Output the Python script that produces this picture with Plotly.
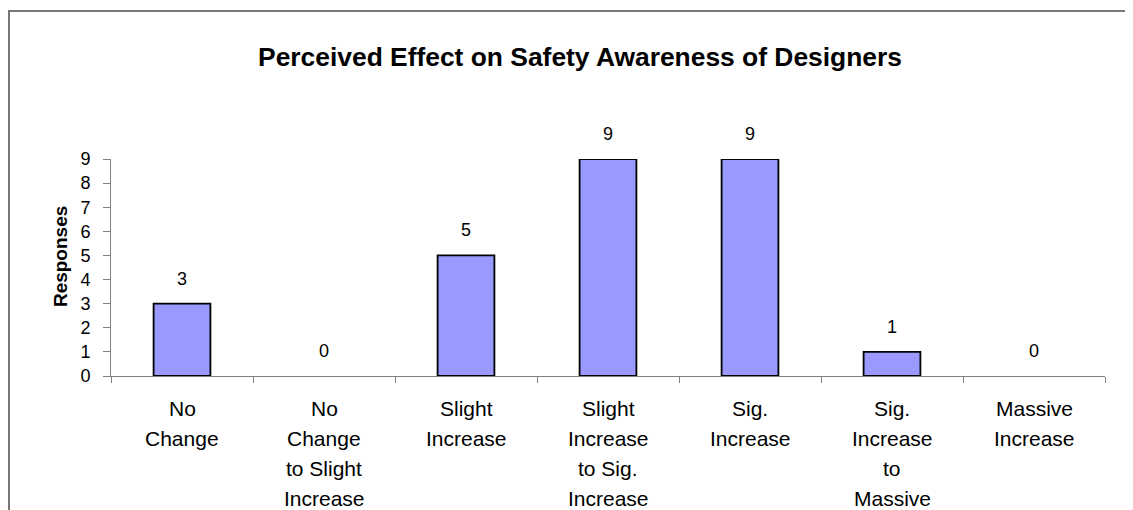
import plotly.graph_objects as go

categories = ["No Change", "No Change to Slight Increase", "Slight Increase",
              "Slight Increase to Sig. Increase", "Sig. Increase",
              "Sig. Increase to Massive", "Massive Increase"]
label_lines = [["No", "Change"], ["No", "Change", "to Slight", "Increase"],
               ["Slight", "Increase"], ["Slight", "Increase", "to Sig.", "Increase"],
               ["Sig.", "Increase"], ["Sig.", "Increase", "to", "Massive"],
               ["Massive", "Increase"]]
responses = [3, 0, 5, 9, 9, 1, 0]
y_ticks = list(range(0, 10))

FONT = "Liberation Sans, Arial, sans-serif"

fig = go.Figure()
fig.add_trace(go.Bar(
    x=categories, y=responses,
    marker=dict(color="#9999FF",
                line=dict(color="#000000",
                          width=[1.8 if v > 0 else 0 for v in responses])),
    width=0.4, showlegend=False, hoverinfo="x+y",
))

annotations = []
for c, v in zip(categories, responses):
    annotations.append(dict(x=c, y=v, xref="x", yref="y", text=str(v),
                            showarrow=False, yshift=25, yanchor="middle",
                            font=dict(size=18, color="black", family=FONT)))
for c, lines in zip(categories, label_lines):
    for i, ln in enumerate(lines):
        annotations.append(dict(x=c, y=0, xref="x", yref="paper", text=ln,
                                showarrow=False, yanchor="middle",
                                yshift=-(32 + 30 * i),
                                font=dict(size=21, color="black", family=FONT)))
annotations.append(dict(x=-0.0513, y=0.548, xref="paper", yref="paper",
                        text="<b>Responses</b>", textangle=-90, showarrow=False,
                        xanchor="center", yanchor="middle",
                        font=dict(size=19, color="black", family=FONT)))

fig.update_layout(
    width=1133, height=510,
    margin=dict(l=103, r=36, t=151, b=142),
    paper_bgcolor="white", plot_bgcolor="white",
    title=dict(text="<b>Perceived Effect on Safety Awareness of Designers</b>",
               x=572 / 1133, xref="container", xanchor="center",
               y=1 - 49 / 510, yref="container", yanchor="middle",
               font=dict(size=26.4, color="black", family=FONT)),
    bargap=0.6,
    xaxis=dict(type="category", categoryarray=categories, range=[-0.5, 6.5],
               showticklabels=False, showgrid=False, zeroline=False,
               showline=True, linecolor="#7f7f7f", linewidth=1,
               ticks="outside", tickson="boundaries", ticklen=6,
               tickcolor="#7f7f7f", tickwidth=1),
    xaxis2=dict(overlaying="x", range=[-0.5, 6.5],
                tickvals=[i - 0.5 for i in range(len(categories) + 1)],
                showticklabels=False, showgrid=False, zeroline=False,
                showline=False, ticks="inside", ticklen=6,
                tickcolor="#7f7f7f", tickwidth=1, anchor="y"),
    yaxis=dict(range=[0, 9], tickvals=y_ticks, showgrid=False, zeroline=False,
               showline=True, linecolor="#7f7f7f", linewidth=1,
               ticks="outside", ticklen=7, tickcolor="#7f7f7f", tickwidth=1,
               ticklabelstandoff=9,
               tickfont=dict(size=18, color="black", family=FONT)),
    yaxis2=dict(overlaying="y", range=[0, 9], tickvals=y_ticks,
                showticklabels=False, showgrid=False, zeroline=False,
                showline=False, ticks="inside", ticklen=7,
                tickcolor="#7f7f7f", tickwidth=1, anchor="x"),
    annotations=annotations,
    shapes=[dict(type="rect", xref="paper", yref="paper",
                 x0=(1 - 103) / 994, x1=1.2, y0=-1.0, y1=(368 - 3) / 217,
                 line=dict(color="#777777", width=2), layer="below")],
)

fig.write_html("out.html")
